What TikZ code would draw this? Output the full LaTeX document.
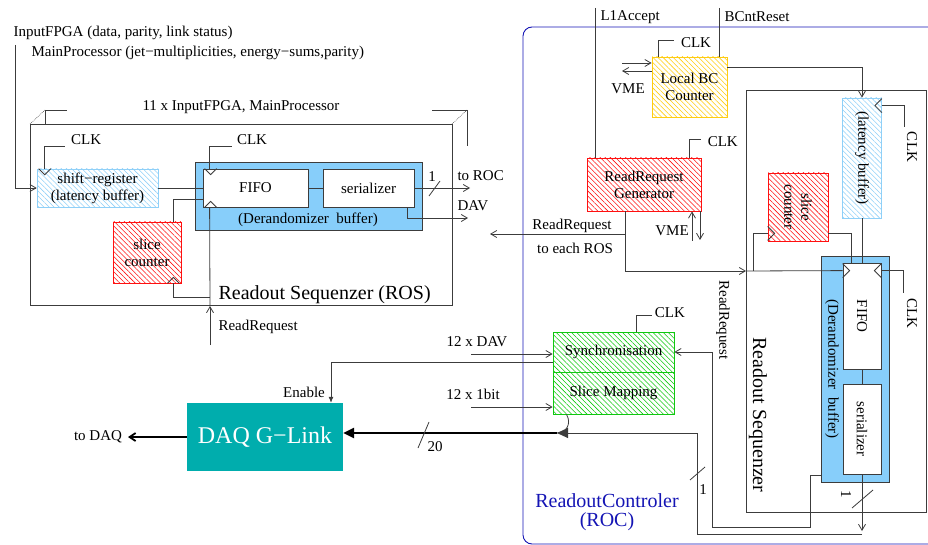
\documentclass[tikz,border=0pt]{standalone}
\usepackage{fontspec}
\setmainfont{Liberation Serif}
\usetikzlibrary{arrows.meta,patterns.meta,calc}
\definecolor{roc}{HTML}{1414B4}
\definecolor{lb}{HTML}{8FD0F8}
\definecolor{derb}{HTML}{87CEFA}
\definecolor{hr}{HTML}{FF1010}
\definecolor{hg}{HTML}{10C810}
\definecolor{hy}{HTML}{FFCC10}
\definecolor{glink}{HTML}{00ADAD}
\definecolor{wire}{HTML}{3C3C3C}
\tikzset{
  box/.style={draw=wire,line width=0.8pt,fill=white,inner sep=0pt,align=center},
  hatch/.style={line width=0.8pt,inner sep=0pt,align=center,pattern={Lines[angle=-45,distance=3.6pt,line width=0.55pt]}},
  hblue/.style={hatch,draw=lb,pattern color=lb},
  hred/.style={hatch,draw=hr,pattern color=hr},
  hgreen/.style={hatch,draw=hg,pattern color=hg},
  hyel/.style={hatch,draw=hy,pattern color=hy},
  derand/.style={draw=wire,line width=0.8pt,fill=derb,inner sep=0pt},
  wr/.style={draw=wire,line width=0.8pt},
  ar/.style={wr,-{Straight Barb[length=6pt,width=7pt]}},
  bus/.style={line width=2.4pt,-{Triangle[length=11pt,width=10pt]}},
  big/.style={font=\fontsize{20}{19}\selectfont},
}
\begin{document}
\begin{tikzpicture}[x=1pt,y=-1pt,font=\fontsize{15}{17}\selectfont]
\useasboundingbox (0,0) rectangle (928,545);
% ---- inputs ----
\node[anchor=west] (infpga) at (10,33) {InputFPGA (data, parity, link status)};
\node[anchor=west] (inmp) at (28,53) {MainProcessor (jet−multiplicities, energy−sums,parity)};
\coordinate (inw) at (15,45);

% ---- 11 x ROS, left ----
\node (nros) at (241,107) {11 x InputFPGA, MainProcessor};
\draw[wr] (30,124) rectangle (452,305);
\draw[wr] (45,124) |- (67,110);
\draw[wr] (432,110) -| (467,146);
\draw[wr,densely dotted,line width=0.5pt] (30,124) -- (45,110) (452,124) -- (467,110);
\node[hblue,minimum width=121pt,minimum height=38pt] (sr) at (97.5,188) {shift−register\\(latency buffer)};
\node[derand,minimum width=227pt,minimum height=68pt] (derl) at (308.5,196) {};
\node[box,minimum width=105pt,minimum height=38pt] (fifol) at (255.5,188) {FIFO};
\node[box,minimum width=91pt,minimum height=38pt] (serl) at (368.5,188) {serializer};
\node (derlt) at (308,220) {(Derandomizer\ \ buffer)};
\node[hred,minimum width=68pt,minimum height=61pt] (scl) at (147,252.5) {slice\\counter};
\node[anchor=west,big] (rosl) at (215,295) {Readout Sequenzer (ROS)};
\node[anchor=west] (rrl) at (215,327) {ReadRequest};
\coordinate (rrin) at (210,345);
\coordinate (rosb) at (210,306);

\draw[ar] (inw) |- (sr.west);
\draw[wr] (sr.east) -- (fifol.west);
\draw[wr] (fifol.east) -- (serl.west);
\draw[wr] ([xshift=8pt]sr.north west) -- ++(0,-22) -- ++(20,0)
  node[anchor=south west,inner sep=0pt,xshift=6pt,yshift=2pt] (clk1) {CLK};
\draw[wr] ([xshift=7pt]fifol.north west) -- ++(0,-22) -- ++(22,0)
  node[anchor=south west,inner sep=0pt,xshift=5pt,yshift=2pt] (clk2) {CLK};
\draw[wr] ([xshift=2pt]sr.north west) -- ++(6,6) -- ++(6,-6);
\draw[wr] ([xshift=2pt]fifol.north west) -- ++(6,6) -- ++(6,-6);
\draw[wr] ([xshift=2pt]fifol.south west) -- ++(6,-6) -- ++(6,6);
\draw[wr] ([xshift=-14pt]scl.south east) -- ++(6,-6) -- ++(6,6);
\draw[wr] ([xshift=-8pt]scl.north east) |- ([yshift=-11pt]fifol.west);
\draw[wr] ([xshift=-8pt]scl.south east) |- (210,297);
\draw[ar] (rrin) -- (rosb);
\draw[wr] (rosb) -- ([xshift=7pt]fifol.south west);
\coordinate (toroc) at (470,188);
\draw[ar] (serl.east) -- (toroc);
\draw[wr] (429,196) -- (440,181);
\node (one1) at (432,177) {1};
\node[anchor=west] (toroct) at (454,176) {to ROC};
\draw[ar] ([xshift=-7pt]serl.south east) |- (468,218);
\node[anchor=west] (davt) at (454,206) {DAV};

% ---- ROC ----
\draw[roc,line width=0.9pt,rounded corners=9pt] (523,27) rectangle (960,544);
\node[big,text=roc,align=center] (roct) at (607,512) {ReadoutControler\\(ROC)};
\coordinate (l1top) at (595,8);
\coordinate (bctop) at (719,8);
\node[anchor=west] (l1t) at (597,17) {L1Accept};
\node[anchor=west] (bct) at (721,17) {BCntReset};
\node[hyel,minimum width=75pt,minimum height=60pt] (lbc) at (689.5,87) {Local BC\\Counter};
\node[hred,minimum width=114pt,minimum height=53pt] (rrg) at (644,184.5) {ReadRequest\\Generator};
\draw[wr] (l1top) -- (l1top |- rrg.north);
\draw[wr] (bctop) -- (bctop |- lbc.north);
\draw[wr] ([xshift=7pt]lbc.north west) -- ++(0,-16) -- ++(15,0)
  node[anchor=west,inner sep=0pt,xshift=7pt,yshift=-2pt] (clk3) {CLK};
\coordinate (vmea) at (622,63);
\coordinate (vmeb) at (622,71);
\draw[ar] (vmea) -- (vmea -| lbc.west);
\draw[ar] (vmeb -| lbc.west) -- (vmeb);
\node (vme1) at (628,89) {VME};
\draw[wr] ([xshift=-12pt]rrg.north east) -- ++(0,-18) -- ++(12,0)
  node[anchor=west,inner sep=0pt,xshift=6pt,yshift=-2pt] (clk4) {CLK};
\coordinate (vmec) at (692,241);
\coordinate (vmed) at (700,240);
\draw[ar] (vmec) -- (vmec |- rrg.south);
\draw[ar] (vmed |- rrg.south) -- (vmed);
\node (vme2) at (672,231) {VME};
\coordinate (rosr) at (746,271);
\draw[ar] ([xshift=-19pt]rrg.south) |- (rosr);
\coordinate (rrbr) at (625,234);
\draw[ar] (rrbr) -- (490,234);
\node (rrt) at (572,226) {ReadRequest};
\node (rrt2) at (575,248) {to each ROS};

% ---- ROS, right ----
\draw[wr] (746,90) rectangle (926,512);
\node[hblue,minimum width=39pt,minimum height=120pt] (latb) at (862,158) {};
\node[rotate=-90] (latt) at (latb) {(latency buffer)};
\node[hred,minimum width=60pt,minimum height=68pt] (scr) at (798,207) {};
\node[rotate=-90,align=center] (scrt) at (scr) {slice\\counter};
\node[derand,minimum width=68pt,minimum height=226pt] (derr) at (855,369) {};
\node[rotate=-90] (derrt) at (832,369) {(Derandomizer\ \ buffer)};
\node[box,minimum width=38pt,minimum height=106pt] (fifor) at (862,316) {};
\node[rotate=-90] (fifort) at (fifor) {FIFO};
\node[box,minimum width=38pt,minimum height=90pt] (serr) at (862,429) {};
\node[rotate=-90] (serrt) at (serr) {serializer};
\node[rotate=-90] (rrr) at (723,320) {ReadRequest};
\node[rotate=-90,big] (rosrt) at (758,415) {Readout Sequenzer};

\draw[ar] ([yshift=20pt]lbc.east) -| (latb.north);
\draw[wr] (latb.south) -- (fifor.north);
\draw[wr] (fifor.south) -- (serr.north);
\draw[wr] ([yshift=-1pt]latb.north east) -- ++(-7,7) -- ++(7,7);
\draw[wr] ([yshift=-8pt]latb.north east) -- ++(22,0) -- ++(0,21);
\node[rotate=-90] (clk5) at (912,147) {CLK};
\draw[wr] ([yshift=15pt]scr.south west) -- ++(7,7) -- ++(-7,7);
\draw[wr] ([yshift=8pt]scr.south east) -| ([xshift=-11pt]fifor.north);
\draw[wr] ([yshift=8pt]scr.south west) -| (753,271);
\draw[wr] (rosr) -- ([yshift=-8pt]fifor.north west);
\draw[wr] ([yshift=-1pt]fifor.north west) -- ++(7,7) -- ++(-7,7);
\draw[wr] ([yshift=-1pt]fifor.north east) -- ++(-7,7) -- ++(7,7);
\draw[wr] ([yshift=-8pt]fifor.north east) -- ++(22,0) -- ++(0,22);
\node[rotate=-90] (clk6) at (912,313) {CLK};
\coordinate (serout) at (862,531);
\draw[ar] (serr.south) -- (serout);
\draw[wr] (852,508) -- (873,490);
\node[rotate=-90] (one2) at (846,494) {1};

% ---- synchronisation, slice mapping ----
\node[hgreen,minimum width=121pt,minimum height=40pt] (sync) at (613.5,352) {Synchronisation};
\node[hgreen,minimum width=121pt,minimum height=42pt] (smap) at (613.5,393) {Slice Mapping};
\draw[wr] ([xshift=23pt]sync.north) -- ++(0,-16) -- ++(15,0)
  node[anchor=west,inner sep=0pt,xshift=3pt,yshift=3pt] (clk7) {CLK};
\draw[ar] ([yshift=7pt]derr.south west) -| (810,527) -| (712,352) -- (sync.east);
\coordinate (dav12) at (471,354);
\coordinate (bit12) at (471,407);
\draw[ar] (dav12) -- (dav12 -| sync.west);
\draw[ar] (bit12) -- (bit12 -| smap.west);
\node (dav12t) at (477,342) {12 x DAV};
\node (bit12t) at (473,394) {12 x 1bit};

% ---- DAQ G-Link ----
\node[fill=glink,minimum width=156pt,minimum height=68pt,text=white,font=\fontsize{24}{26}\selectfont] (dq) at (265,437) {DAQ G−Link};
\draw[wr,-{Latex[length=6pt,width=5pt]}] ([yshift=-10pt]sync.west) -| ([xshift=66pt]dq.north);
\node (enat) at (304,392) {Enable};
\coordinate (busin) at (557,433);
\draw[wr,line width=1pt,-{Triangle[length=11pt,width=10pt]}] (serout) ++(0,3) -| (697,433) -- (busin);
\draw[wr] (690,480) -- (705,467);
\node (one3) at (703,490) {1};
\draw[wr] ([xshift=-47pt]smap.south) .. controls (572,424) and (566,433) .. (busin);
\draw[bus] (busin) -- (busin -| dq.east);
\draw[wr] (418,448) -- (429,422);
\node (twenty) at (435,447) {20};
\coordinate (todaq) at (128,437);
\draw[line width=1.8pt,-{Straight Barb[length=6pt,width=8pt]}] (dq.west) -- (todaq);
\node (todaqt) at (98,437) {to DAQ};
\end{tikzpicture}
\end{document}
